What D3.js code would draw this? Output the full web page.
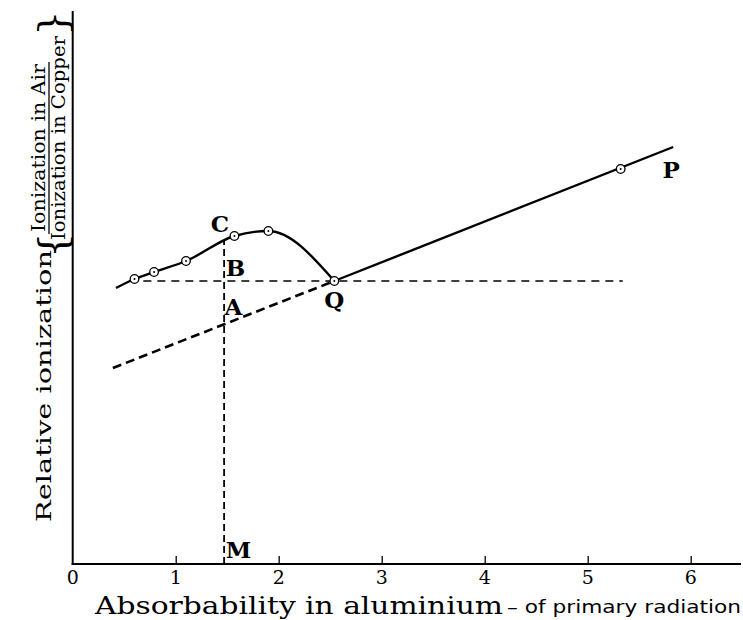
<!DOCTYPE html>
<html>
<head>
<meta charset="utf-8">
<script src="https://cdn.jsdelivr.net/npm/d3@7"></script>
<style>
  html, body { margin: 0; padding: 0; background: #fff; }
  svg { display: block; }
</style>
</head>
<body>
<svg id="chart" width="743" height="620"></svg>
<script>
// Absorbability of primary radiation in aluminium (x) against
// relative ionization Air/Copper (y, arbitrary units).
const xTicks = [0, 1, 2, 3, 4, 5, 6];
const xTickLabels = ["0", "1", "2", "3", "4", "5", "6"];

// Observed points (circled)
const obsX = [0.60, 0.79, 1.10, 1.57, 1.90, 2.54, 5.32];
const obsY = [2.85, 2.92, 3.03, 3.28, 3.33, 2.83, 3.95];

// Smooth curve through the low-absorbability points, ending at Q
const curveX = [0.42, 0.60, 0.79, 1.10, 1.57, 1.90, 2.54];
const curveY = [2.76, 2.85, 2.92, 3.03, 3.28, 3.33, 2.83];

// Straight line Q -> P and its dashed backward extension
const lineX = [2.54, 5.83];
const lineY = [2.83, 4.17];
const extX = [0.39, 2.54];
const extY = [1.96, 2.83];

// Horizontal dashed line at the level of Q
const levelX = [0.55, 5.34];
const levelY = [2.83, 2.83];

// Vertical dashed ordinate M–A–B–C
const ordX = [1.47, 1.47];
const ordY = [0, 3.23];

// Letter annotations
const letters = ["C", "B", "A", "Q", "P", "M"];
const letterX = [1.43, 1.58, 1.56, 2.54, 5.81, 1.61];
const letterY = [3.40, 2.96, 2.57, 2.64, 3.945, 0.14];

const svg = d3.select("#chart");
const x = d3.scaleLinear().domain([0, 6]).range([72.7, 690.7]);
const y = d3.scaleLinear().domain([0, 5.5]).range([564, 14]);

const serif = "'DejaVu Serif', 'Liberation Serif', serif";

// Axes
svg.append("line")
  .attr("x1", x(0)).attr("x2", x(0))
  .attr("y1", y(0) + 1).attr("y2", 11)
  .attr("stroke", "#000").attr("stroke-width", 2);
svg.append("line")
  .attr("x1", x(0) - 1).attr("x2", 741)
  .attr("y1", y(0)).attr("y2", y(0))
  .attr("stroke", "#000").attr("stroke-width", 2);

const xAxis = d3.axisTop(x)
  .tickValues(xTicks.slice(1))
  .tickSize(8)
  .tickFormat("");
const gx = svg.append("g")
  .attr("transform", `translate(0,${y(0)})`)
  .call(xAxis);
gx.select(".domain").remove();
gx.selectAll(".tick line").attr("stroke", "#000").attr("stroke-width", 1.3);

svg.append("g").selectAll("text")
  .data(xTicks)
  .join("text")
  .attr("x", d => x(d))
  .attr("y", 584)
  .attr("text-anchor", "middle")
  .attr("font-family", serif)
  .attr("font-size", 19)
  .text((d, i) => xTickLabels[i]);

// X axis title
svg.append("text")
  .attr("x", 95).attr("y", 614)
  .attr("font-family", serif)
  .attr("font-size", 24)
  .attr("textLength", 408)
  .attr("lengthAdjust", "spacingAndGlyphs")
  .text("Absorbability in aluminium");
svg.append("text")
  .attr("x", 507).attr("y", 613)
  .attr("font-family", "'DejaVu Sans', sans-serif")
  .attr("font-size", 18)
  .attr("textLength", 234)
  .attr("lengthAdjust", "spacingAndGlyphs")
  .text("– of primary radiation");

// Y axis title (rotated)
const yt = svg.append("g");
yt.append("text")
  .attr("transform", "translate(51,522) rotate(-90)")
  .attr("font-family", serif)
  .attr("font-size", 21)
  .attr("textLength", 272)
  .attr("lengthAdjust", "spacingAndGlyphs")
  .text("Relative ionization");
yt.append("text")
  .attr("transform", "translate(45,232) rotate(-90)")
  .attr("font-family", serif)
  .attr("font-size", 18)
  .attr("textLength", 168)
  .attr("lengthAdjust", "spacingAndGlyphs")
  .text("Ionization in Air");
yt.append("line")
  .attr("x1", 49).attr("x2", 49)
  .attr("y1", 234).attr("y2", 62)
  .attr("stroke", "#000").attr("stroke-width", 1.3);
yt.append("text")
  .attr("transform", "translate(65,240) rotate(-90)")
  .attr("font-family", serif)
  .attr("font-size", 18)
  .attr("textLength", 204)
  .attr("lengthAdjust", "spacingAndGlyphs")
  .text("Ionization in Copper");
// braces round the fraction
yt.append("text")
  .attr("transform", "translate(66,258) rotate(-90)")
  .attr("font-family", serif)
  .attr("font-size", 40)
  .attr("font-weight", 300)
  .text("{");
yt.append("text")
  .attr("transform", "translate(66,36) rotate(-90)")
  .attr("font-family", serif)
  .attr("font-size", 40)
  .attr("font-weight", 300)
  .text("}");

// Dashed construction lines
const dashed = (xs, ys, dash, width) => {
  const pts = xs.map((d, i) => [x(d), y(ys[i])]);
  svg.append("path")
    .attr("d", d3.line()(pts))
    .attr("fill", "none")
    .attr("stroke", "#000")
    .attr("stroke-width", width)
    .attr("stroke-dasharray", dash);
};
dashed(levelX, levelY, "8,6", 1.6);
dashed(extX, extY, "9,5", 2.6);
dashed(ordX, ordY, "7,4", 1.8);

// Solid curve and straight line
const curvePts = curveX.map((d, i) => [x(d), y(curveY[i])]);
svg.append("path")
  .attr("d", d3.line().curve(d3.curveMonotoneX)(curvePts))
  .attr("fill", "none")
  .attr("stroke", "#000")
  .attr("stroke-width", 2.4);
const linePts = lineX.map((d, i) => [x(d), y(lineY[i])]);
svg.append("path")
  .attr("d", d3.line()(linePts))
  .attr("fill", "none")
  .attr("stroke", "#000")
  .attr("stroke-width", 2.4);

// Observation circles with centre dots
const obs = svg.append("g").selectAll("g")
  .data(obsX.map((d, i) => [d, obsY[i]]))
  .join("g")
  .attr("transform", d => `translate(${x(d[0])},${y(d[1])})`);
obs.append("circle").attr("r", 4.3)
  .attr("fill", "#fff").attr("stroke", "#000").attr("stroke-width", 1.3);
obs.append("circle").attr("r", 1).attr("fill", "#000");

// Letters
svg.append("g").selectAll("text")
  .data(letters)
  .join("text")
  .attr("x", (d, i) => x(letterX[i]))
  .attr("y", (d, i) => y(letterY[i]))
  .attr("dy", "0.36em")
  .attr("text-anchor", "middle")
  .attr("font-family", serif)
  .attr("font-weight", "bold")
  .attr("font-size", 23)
  .text(d => d);
</script>
</body>
</html>
